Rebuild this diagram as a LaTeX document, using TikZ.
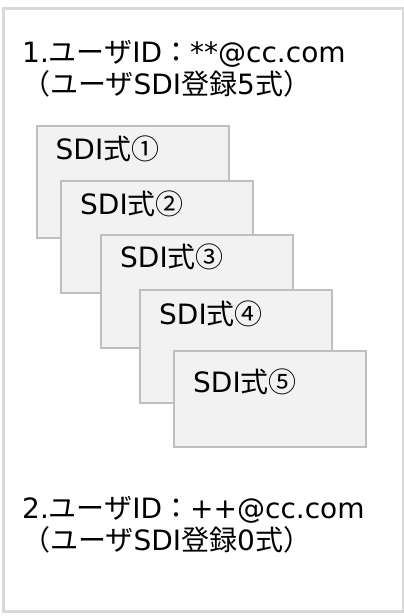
\documentclass[tikz,border=0pt]{standalone}
\usepackage{fontspec}
\usetikzlibrary{calc}
\setmainfont{DejaVu Sans}
\newfontfamily\jp{Noto Sans CJK JP}
\definecolor{framegray}{RGB}{217,217,217}
\definecolor{boxgray}{RGB}{191,191,191}
\definecolor{boxfill}{RGB}{242,242,242}
\begin{document}
\begin{tikzpicture}[x=1pt,y=-1pt,
  txt/.style={anchor=base west,inner sep=0pt,font=\fontsize{28}{32}\selectfont},
  sdibox/.style={draw=boxgray,fill=boxfill,line width=2pt,inner sep=0pt,anchor=north west}]
\useasboundingbox (0,0) rectangle (404,616);
\fill[white] (0,0) rectangle (404,616);
\node[draw=framegray,line width=2.5pt,inner sep=0pt,minimum width=400pt,minimum height=603pt,anchor=north west] (frame) at (2,7) {};
% boxes
\node[sdibox,minimum width=192pt,minimum height=112pt] (b1) at (35.5,125) {};
\node[txt] (t1) at ($(b1.north west)+(20,34)$) {SDI{\jp 式①}};
\node[sdibox,minimum width=192pt,minimum height=112pt] (b2) at (60,180) {};
\node[txt] (t2) at ($(b2.north west)+(20,34)$) {SDI{\jp 式②}};
\node[sdibox,minimum width=192pt,minimum height=113pt] (b3) at (100,233.5) {};
\node[txt] (t3) at ($(b3.north west)+(20,34)$) {SDI{\jp 式③}};
\node[sdibox,minimum width=192pt,minimum height=113pt] (b4) at (139,289) {};
\node[txt] (t4) at ($(b4.north west)+(20,35)$) {SDI{\jp 式④}};
\node[sdibox,minimum width=192pt,minimum height=96pt] (b5) at (173,350) {};
\node[txt] (t5) at ($(b5.north west)+(20,42)$) {SDI{\jp 式⑤}};
% titles
\node[txt] (h1a) at (22,62) {1.{\jp ユーザ}ID{\jp ：}**@cc.com};
\node[txt] (h1b) at (22,94) {{\jp （ユーザ}SDI{\jp 登録}5{\jp 式）}};
\node[txt] (h2a) at (22,518) {2.{\jp ユーザ}ID{\jp ：}++@cc.com};
\node[txt] (h2b) at (22,550) {{\jp （ユーザ}SDI{\jp 登録}0{\jp 式）}};
\end{tikzpicture}
\end{document}
